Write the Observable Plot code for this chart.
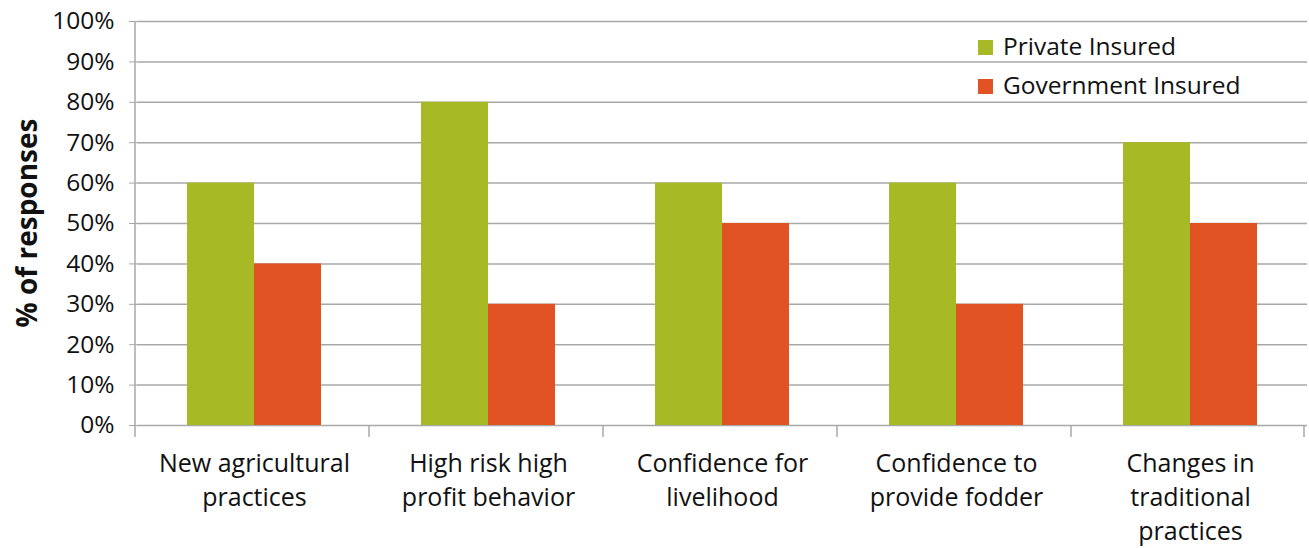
<!DOCTYPE html>
<html><head><meta charset="utf-8">
<script src="https://cdn.jsdelivr.net/npm/d3@7"></script>
<script src="https://cdn.jsdelivr.net/npm/@observablehq/plot@0.6"></script>
<style>
body{margin:0;background:#fff;font-family:"Open Sans",sans-serif;}
#wrap{position:relative;width:1309px;height:548px;}
#legend{position:absolute;left:978px;top:26px;font-size:24.5px;color:#111;line-height:39px;}
#legend .sw{display:inline-block;width:15px;height:15px;margin-right:10px;vertical-align:0px;}
</style></head>
<body><div id="wrap"><div id="legend"></div></div>
<script>
const categories = ["New agricultural\npractices","High risk high\nprofit behavior","Confidence for\nlivelihood","Confidence to\nprovide fodder","Changes in\ntraditional\npractices"];
const series = ["Private Insured","Government Insured"];
const privateValues = [60,80,60,60,70];
const governmentValues = [40,30,50,30,50];
const yTicks = [0,10,20,30,40,50,60,70,80,90,100];
const colors = ["#a7b924","#e25324"];

const data = [];
categories.forEach((c,i)=>{
  data.push({category:c, series:series[0], value:privateValues[i]});
  data.push({category:c, series:series[1], value:governmentValues[i]});
});

const gridColor = "#a8a8a8";
const chart = Plot.plot({
  width:1309, height:548,
  marginLeft:135, marginRight:0, marginTop:21, marginBottom:123,
  style:{fontFamily:"'Open Sans', sans-serif", fontSize:"22px", color:"#111", background:"transparent"},
  fx:{domain:categories, padding:0, label:null, axis:null},
  x:{domain:series, paddingInner:0, paddingOuter:0.74, axis:null},
  y:{domain:[0,100], ticks:yTicks, label:null},
  color:{domain:series, range:colors},
  marks:[
    Plot.gridY(yTicks,{stroke:gridColor, strokeOpacity:1, strokeWidth:1.5}),
    Plot.barY(data,{fx:"category", x:"series", y:"value", fill:"series"}),
    Plot.axisY({ticks:yTicks, tickFormat:d=>d+"%", tickSize:8, tickPadding:15, stroke:gridColor, fontSize:24.5, label:null}),
    Plot.axisFx({anchor:"bottom", tickSize:0, tickPadding:22, fontSize:25, lineHeight:1.36, label:null})
  ]
});

const fx = chart.scale("fx"), yS = chart.scale("y");
const svg = d3.select(chart);
const y0 = yS.apply(0), y100 = yS.apply(100);
const x0 = fx.range[0];
const g = svg.append("g").attr("stroke",gridColor).attr("stroke-width",1.5);
g.append("line").attr("x1",x0).attr("x2",x0).attr("y1",y100).attr("y2",y0);
for (let i=0;i<=categories.length;i++){
  const x = x0 + i*fx.step + (i==categories.length?-1:0);
  g.append("line").attr("x1",x).attr("x2",x).attr("y1",y0).attr("y2",y0+12);
}
svg.append("text").attr("transform",`translate(26,${(y0+y100)/2}) rotate(-90)`)
  .attr("text-anchor","middle").attr("dominant-baseline","central").attr("font-weight","bold").attr("font-size",28)
  .attr("fill","#111").text("% of responses");

document.getElementById("wrap").prepend(chart);
const lg = document.getElementById("legend");
series.forEach((s,i)=>{
  const d = document.createElement("div");
  d.innerHTML = `<span class="sw" style="background:${colors[i]}"></span>${s}`;
  lg.appendChild(d);
});
</script></body></html>
